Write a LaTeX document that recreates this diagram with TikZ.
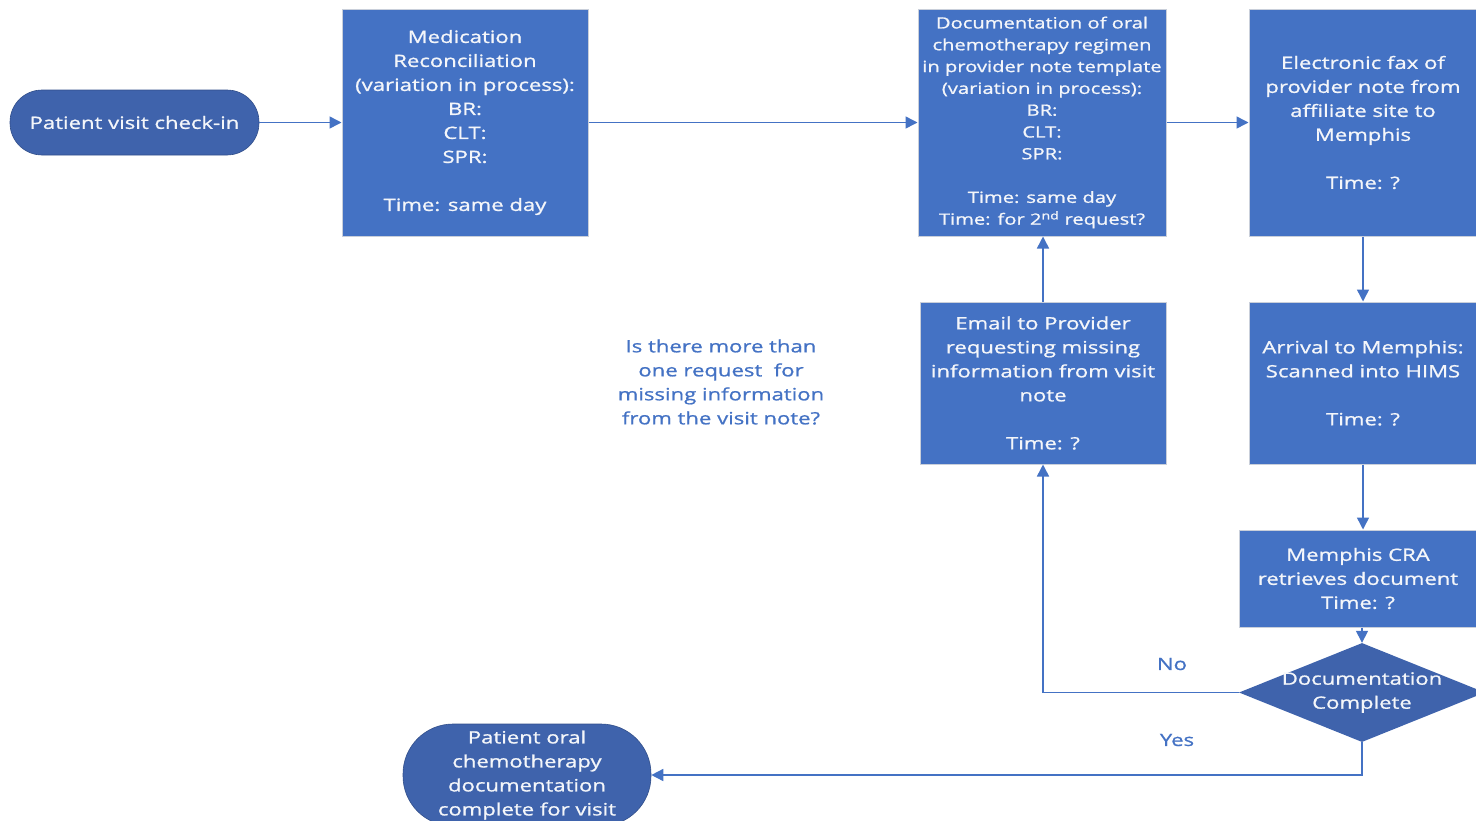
\documentclass[tikz,border=0pt]{standalone}
\usepackage{fontspec}
\setmainfont{Open Sans}[FakeStretch=1.3, FakeBold=1]
\usetikzlibrary{shapes.geometric,arrows.meta,positioning}
\definecolor{boxblue}{HTML}{4472C4}
\definecolor{darkblue}{HTML}{3F63AC}
\definecolor{edgegray}{HTML}{C9CFDA}
\definecolor{txt}{HTML}{F4F6FA}
\tikzset{
  procbox/.style={rectangle, fill=boxblue, draw=edgegray, line width=1pt, align=center, text=txt, inner sep=0pt, font=\fontsize{17}{24}\selectfont},
  termbox/.style={rectangle, rounded corners=32pt, fill=darkblue, draw=darkblue!80!black, line width=0.6pt, align=center, text=txt, inner sep=0pt, font=\fontsize{17}{24}\selectfont},
  decbox/.style={diamond, fill=darkblue, draw=none, inner sep=0pt},
  dectext/.style={align=center, text=txt, inner sep=0pt, font=\fontsize{17}{24}\selectfont},
  flow/.style={draw=boxblue, line width=1.5pt, -{Triangle[length=12pt,width=12pt]}},
  bluetext/.style={text=boxblue, align=center, font=\fontsize{17}{24}\selectfont}
}
\begin{document}
\begin{tikzpicture}[x=1pt,y=-1pt]
\useasboundingbox (0,0) rectangle (1476,820);
\clip (0,0) rectangle (1476,820);

\node[termbox, minimum width=249pt, minimum height=65pt] (checkin) at (134.5,122.5) {Patient visit check-in};

\node[procbox, minimum width=246pt, minimum height=227pt] (medrec) at (465,122.5)
  {Medication\\Reconciliation\\(variation in process):\\BR:\\CLT:\\SPR:\\[24pt]Time: same day};

\node[procbox, minimum width=248pt, minimum height=227pt, font=\fontsize{15.5}{21.8}\selectfont] (doc) at (1042,122.5)
  {Documentation of oral\\chemotherapy regimen\\in provider note template\\(variation in process):\\BR:\\CLT:\\SPR:\\[21.8pt]Time: same day\\Time: for 2\textsuperscript{nd} request?};

\node[procbox, minimum width=228pt, minimum height=227pt] (fax) at (1363,122.5)
  {Electronic fax of\\provider note from\\affiliate site to\\Memphis\\[24pt]Time: ?};

\node[procbox, minimum width=228pt, minimum height=162pt] (arrival) at (1363,383)
  {Arrival to Memphis:\\Scanned into HIMS\\[24pt]Time: ?};

\node[procbox, minimum width=246pt, minimum height=162pt] (email) at (1043,383)
  {Email to Provider\\requesting missing\\information from visit\\note\\[24pt]Time: ?};

\node[procbox, minimum width=238pt, minimum height=97pt] (cra) at (1358,578.5)
  {Memphis CRA\\retrieves document\\Time: ?};

\node[decbox, minimum width=246pt, minimum height=99pt] (dec) at (1362,692.5) {};
\node[dectext] (dectxt) at (dec.center) {Documentation\\Complete};

\node[termbox, rounded corners=50pt, minimum width=248pt, minimum height=102pt] (endnode) at (527,775)
  {Patient oral\\chemotherapy\\documentation\\complete for visit};

\node[bluetext] (question) at (721,382)
  {Is there more than\\one request~ for\\missing information\\from the visit note?};

\draw[flow] (checkin) -- (medrec);
\draw[flow] (medrec) -- (doc);
\draw[flow] (doc) -- (fax);
\draw[flow] (fax.south) -- (arrival.north -| fax.south);
\draw[flow] (arrival.south) -- (cra.north -| arrival.south);
\draw[flow] (cra.south -| dec.north) -- (dec.north);
\draw[flow] (email.north) -- (doc.south -| email.north);
\draw[flow] (dec.west) -| (email.south);
\draw[flow] (dec.south) |- (endnode.east);

\node[bluetext] (nolabel) at (1172,664) {No};
\node[bluetext] (yeslabel) at (1177,740) {Yes};
\end{tikzpicture}
\end{document}
